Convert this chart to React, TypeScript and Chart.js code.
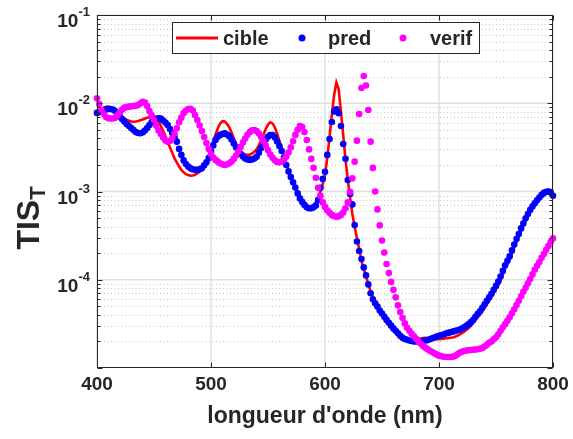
import React, { useEffect, useRef } from 'react';
import { Chart, registerables } from 'chart.js';

Chart.register(...registerables);

// ---------- data ----------
const WL_START = 400;
const WL_STEP = 2;
const WL_COUNT = 201;
const WAVELENGTHS: number[] = Array.from({ length: WL_COUNT }, (_, i) => WL_START + WL_STEP * i);

// cible (red line), 400..800 nm step 2
const CIBLE: number[] = [
  7.37e-3, 7.97e-3, 8.51e-3, 8.89e-3, 9.10e-3, 9.15e-3, 8.96e-3, 8.51e-3, 7.97e-3, 7.52e-3,
  7.18e-3, 6.94e-3, 6.71e-3, 6.50e-3, 6.33e-3, 6.20e-3, 6.17e-3, 6.22e-3, 6.30e-3, 6.42e-3,
  6.55e-3, 6.71e-3, 6.84e-3, 6.94e-3, 6.92e-3, 6.78e-3, 6.47e-3, 6.14e-3, 5.53e-3, 4.85e-3,
  4.26e-3, 3.67e-3, 3.16e-3, 2.74e-3, 2.37e-3, 2.14e-3, 1.92e-3, 1.76e-3, 1.65e-3, 1.57e-3,
  1.54e-3, 1.51e-3, 1.52e-3, 1.55e-3, 1.60e-3, 1.67e-3, 1.76e-3, 1.87e-3, 2.11e-3, 2.50e-3,
  2.96e-3, 3.64e-3, 4.43e-3, 5.21e-3, 5.90e-3, 6.27e-3, 6.22e-3, 5.83e-3, 5.35e-3, 4.67e-3,
  3.99e-3, 3.46e-3, 3.09e-3, 2.86e-3, 2.71e-3, 2.63e-3, 2.60e-3, 2.61e-3, 2.70e-3, 2.82e-3,
  3.00e-3, 3.33e-3, 3.84e-3, 4.41e-3, 5.11e-3, 5.75e-3, 6.09e-3, 5.90e-3, 5.32e-3, 4.55e-3,
  3.74e-3, 3.09e-3, 2.56e-3, 2.08e-3, 1.73e-3, 1.46e-3, 1.25e-3, 1.07e-3, 9.15e-4, 8.03e-4,
  7.33e-4, 6.81e-4, 6.47e-4, 6.47e-4, 6.59e-4, 6.90e-4, 7.52e-4, 8.57e-4, 1.00e-3, 1.22e-3,
  1.54e-3, 2.43e-3, 4.15e-3, 7.37e-3, 1.24e-2, 1.72e-2, 1.45e-2, 7.97e-3, 4.32e-3, 2.31e-3,
  1.35e-3, 8.57e-4, 5.57e-4, 4.00e-4, 2.98e-4, 2.23e-4, 1.64e-4, 1.31e-4, 1.09e-4, 8.86e-5,
  7.38e-5, 6.41e-5, 5.62e-5, 5.07e-5, 4.58e-5, 4.19e-5, 3.84e-5, 3.56e-5, 3.29e-5, 3.04e-5,
  2.84e-5, 2.67e-5, 2.51e-5, 2.37e-5, 2.26e-5, 2.17e-5, 2.11e-5, 2.07e-5, 2.05e-5, 2.05e-5,
  2.08e-5, 2.12e-5, 2.16e-5, 2.19e-5, 2.20e-5, 2.19e-5, 2.17e-5, 2.14e-5, 2.13e-5, 2.12e-5,
  2.12e-5, 2.13e-5, 2.15e-5, 2.17e-5, 2.18e-5, 2.20e-5, 2.22e-5, 2.26e-5, 2.32e-5, 2.39e-5,
  2.48e-5, 2.58e-5, 2.70e-5, 2.84e-5, 3.00e-5, 3.25e-5, 3.49e-5, 3.78e-5, 4.05e-5, 4.40e-5,
  4.81e-5, 5.27e-5, 5.77e-5, 6.36e-5, 7.05e-5, 7.84e-5, 8.75e-5, 9.97e-5, 1.15e-4, 1.33e-4,
  1.50e-4, 1.70e-4, 1.98e-4, 2.32e-4, 2.69e-4, 3.09e-4, 3.57e-4, 4.07e-4, 4.65e-4, 5.25e-4,
  5.87e-4, 6.49e-4, 7.11e-4, 7.76e-4, 8.42e-4, 9.08e-4, 9.84e-4, 1.01e-3, 1.04e-3, 1.04e-3,
  9.94e-4,
];

// pred (blue dots)
const PRED: number[] = [
  7.77e-3, 7.97e-3, 8.18e-3, 8.40e-3, 8.51e-3, 8.62e-3, 8.62e-3, 8.51e-3, 8.18e-3, 7.67e-3,
  7.08e-3, 6.64e-3, 6.22e-3, 5.83e-3, 5.53e-3, 5.25e-3, 4.98e-3, 4.73e-3, 4.61e-3, 4.57e-3,
  4.67e-3, 4.92e-3, 5.25e-3, 5.68e-3, 6.14e-3, 6.47e-3, 6.67e-3, 6.76e-3, 6.71e-3, 6.38e-3,
  6.06e-3, 5.68e-3, 5.11e-3, 4.61e-3, 4.15e-3, 3.67e-3, 3.04e-3, 2.60e-3, 2.25e-3, 2.05e-3,
  1.92e-3, 1.83e-3, 1.79e-3, 1.76e-3, 1.76e-3, 1.79e-3, 1.83e-3, 1.98e-3, 2.14e-3, 2.40e-3,
  2.84e-3, 3.33e-3, 3.84e-3, 4.17e-3, 4.38e-3, 4.49e-3, 4.57e-3, 4.43e-3, 4.24e-3, 3.89e-3,
  3.50e-3, 3.16e-3, 2.88e-3, 2.66e-3, 2.50e-3, 2.37e-3, 2.31e-3, 2.28e-3, 2.31e-3, 2.37e-3,
  2.48e-3, 2.74e-3, 3.12e-3, 3.52e-3, 3.89e-3, 4.17e-3, 4.36e-3, 4.36e-3, 4.10e-3, 3.69e-3,
  3.28e-3, 2.88e-3, 2.43e-3, 2.00e-3, 1.69e-3, 1.46e-3, 1.27e-3, 1.11e-3, 9.52e-4, 8.35e-4,
  7.62e-4, 7.05e-4, 6.61e-4, 6.47e-4, 6.48e-4, 6.61e-4, 6.96e-4, 8.03e-4, 1.10e-3, 1.39e-3,
  1.67e-3, 2.60e-3, 3.94e-3, 6.14e-3, 8.07e-3, 8.55e-3, 7.70e-3, 5.53e-3, 3.45e-3, 2.35e-3,
  1.35e-3, 9.39e-4, 7.14e-4, 4.18e-4, 2.71e-4, 2.12e-4, 1.72e-4, 1.38e-4, 1.12e-4, 8.86e-5,
  7.02e-5, 6.00e-5, 5.41e-5, 4.96e-5, 4.48e-5, 4.14e-5, 3.80e-5, 3.51e-5, 3.26e-5, 3.02e-5,
  2.81e-5, 2.64e-5, 2.48e-5, 2.32e-5, 2.20e-5, 2.13e-5, 2.09e-5, 2.05e-5, 2.02e-5, 2.00e-5,
  2.00e-5, 2.00e-5, 2.00e-5, 2.03e-5, 2.05e-5, 2.07e-5, 2.12e-5, 2.17e-5, 2.22e-5, 2.27e-5,
  2.32e-5, 2.35e-5, 2.40e-5, 2.46e-5, 2.50e-5, 2.54e-5, 2.58e-5, 2.63e-5, 2.67e-5, 2.71e-5,
  2.80e-5, 2.89e-5, 3.00e-5, 3.14e-5, 3.31e-5, 3.51e-5, 3.80e-5, 4.11e-5, 4.39e-5, 4.81e-5,
  5.27e-5, 5.77e-5, 6.32e-5, 6.93e-5, 7.68e-5, 8.52e-5, 9.53e-5, 1.09e-4, 1.26e-4, 1.46e-4,
  1.64e-4, 1.84e-4, 2.15e-4, 2.51e-4, 2.90e-4, 3.30e-4, 3.82e-4, 4.35e-4, 4.96e-4, 5.57e-4,
  6.19e-4, 6.78e-4, 7.36e-4, 7.97e-4, 8.55e-4, 9.15e-4, 9.64e-4, 9.94e-4, 1.00e-3, 9.76e-4,
  8.96e-4,
];

// verif (magenta dots)
const VERIF: number[] = [
  1.14e-2, 9.81e-3, 8.40e-3, 7.56e-3, 6.99e-3, 6.76e-3, 6.71e-3, 6.72e-3, 6.84e-3, 7.28e-3,
  7.87e-3, 8.44e-3, 8.92e-3, 9.03e-3, 9.15e-3, 9.22e-3, 9.29e-3, 9.37e-3, 9.57e-3, 9.95e-3,
  1.04e-2, 1.02e-2, 9.32e-3, 8.18e-3, 7.28e-3, 6.47e-3, 5.56e-3, 4.92e-3, 4.47e-3, 4.10e-3,
  3.79e-3, 3.66e-3, 3.74e-3, 3.99e-3, 4.55e-3, 5.21e-3, 6.09e-3, 6.87e-3, 7.72e-3, 8.29e-3,
  8.62e-3, 8.67e-3, 8.29e-3, 7.37e-3, 6.47e-3, 5.60e-3, 4.85e-3, 4.15e-3, 3.55e-3, 3.04e-3,
  2.66e-3, 2.43e-3, 2.28e-3, 2.18e-3, 2.09e-3, 2.03e-3, 2.00e-3, 2.02e-3, 2.09e-3, 2.19e-3,
  2.34e-3, 2.56e-3, 2.84e-3, 3.20e-3, 3.60e-3, 3.99e-3, 4.39e-3, 4.73e-3, 4.95e-3, 4.98e-3,
  4.85e-3, 4.55e-3, 4.15e-3, 3.72e-3, 3.31e-3, 2.94e-3, 2.63e-3, 2.41e-3, 2.26e-3, 2.16e-3,
  2.14e-3, 2.18e-3, 2.29e-3, 2.48e-3, 2.77e-3, 3.17e-3, 3.71e-3, 4.38e-3, 5.01e-3, 5.53e-3,
  5.39e-3, 4.73e-3, 3.84e-3, 3.00e-3, 2.34e-3, 1.85e-3, 1.43e-3, 1.10e-3, 8.91e-4, 7.52e-4,
  6.69e-4, 6.14e-4, 5.73e-4, 5.43e-4, 5.25e-4, 5.18e-4, 5.23e-4, 5.43e-4, 5.80e-4, 6.44e-4,
  7.52e-4, 9.89e-4, 1.41e-3, 2.18e-3, 3.77e-3, 7.56e-3, 1.49e-2, 2.04e-2, 1.59e-2, 8.40e-3,
  3.67e-3, 1.85e-3, 1.00e-3, 6.27e-4, 4.13e-4, 2.79e-4, 2.03e-4, 1.51e-4, 1.19e-4, 9.46e-5,
  7.68e-5, 6.32e-5, 5.13e-5, 4.30e-5, 3.68e-5, 3.20e-5, 2.86e-5, 2.64e-5, 2.44e-5, 2.29e-5,
  2.14e-5, 2.01e-5, 1.88e-5, 1.78e-5, 1.70e-5, 1.63e-5, 1.57e-5, 1.52e-5, 1.47e-5, 1.42e-5,
  1.38e-5, 1.36e-5, 1.34e-5, 1.33e-5, 1.33e-5, 1.33e-5, 1.34e-5, 1.37e-5, 1.42e-5, 1.49e-5,
  1.53e-5, 1.56e-5, 1.58e-5, 1.59e-5, 1.60e-5, 1.61e-5, 1.62e-5, 1.63e-5, 1.65e-5, 1.69e-5,
  1.75e-5, 1.83e-5, 1.93e-5, 2.00e-5, 2.12e-5, 2.23e-5, 2.41e-5, 2.64e-5, 2.89e-5, 3.14e-5,
  3.42e-5, 3.75e-5, 4.16e-5, 4.62e-5, 5.16e-5, 5.77e-5, 6.49e-5, 7.29e-5, 8.10e-5, 9.10e-5,
  1.02e-4, 1.15e-4, 1.30e-4, 1.44e-4, 1.59e-4, 1.77e-4, 1.96e-4, 2.18e-4, 2.42e-4, 2.69e-4,
  2.94e-4,
];

const SERIES_LABELS = ['cible', 'pred', 'verif'];
const SERIES_COLORS = ['#ff0000', '#0000ff', '#ff00ff'];
const X_MIN = 400;
const X_MAX = 800;
const Y_MIN = 1e-5;
const Y_MAX = 1e-1;
const X_TICKS = [400, 500, 600, 700, 800];
const Y_TICKS = [1e-1, 1e-2, 1e-3, 1e-4];
const Y_TICK_EXPONENTS = ['-1', '-2', '-3', '-4'];
const X_TITLE = "longueur d'onde (nm)";
const Y_TITLE_MAIN = 'TIS';
const Y_TITLE_SUB = 'T';

// ---------- style ----------
const FONT = '"Liberation Sans", Arial, Helvetica, sans-serif';
const INK = '#262626';

const crisp = (v: number) => Math.round(v) + 0.5;

const framePlugin = {
  id: 'matlabFrame',
  beforeDatasetsDraw(chart: any) {
    const { ctx, chartArea: a, scales } = chart;
    const xs = scales.x;
    const ys = scales.y;
    ctx.save();
    // minor dotted grid (log)
    ctx.strokeStyle = '#c9c9c9';
    ctx.lineWidth = 1;
    ctx.setLineDash([1, 2.5]);
    for (let e = -5; e <= -2; e++) {
      for (let m = 2; m <= 9; m++) {
        const py = crisp(ys.getPixelForValue(m * Math.pow(10, e)));
        ctx.beginPath();
        ctx.moveTo(a.left, py);
        ctx.lineTo(a.right, py);
        ctx.stroke();
      }
    }
    ctx.setLineDash([]);
    // major grid
    ctx.strokeStyle = '#e0e0e0';
    ctx.lineWidth = 1.5;
    Y_TICKS.forEach((v) => {
      const py = ys.getPixelForValue(v);
      ctx.beginPath();
      ctx.moveTo(a.left, py);
      ctx.lineTo(a.right, py);
      ctx.stroke();
    });
    X_TICKS.forEach((v) => {
      const px = xs.getPixelForValue(v);
      ctx.beginPath();
      ctx.moveTo(px, a.top);
      ctx.lineTo(px, a.bottom);
      ctx.stroke();
    });
    ctx.restore();
  },
  afterDraw(chart: any) {
    const { ctx, chartArea: a, scales } = chart;
    const xs = scales.x;
    const ys = scales.y;
    ctx.save();
    const L = crisp(a.left);
    const R = crisp(a.right) - 1;
    const T = crisp(a.top);
    const B = crisp(a.bottom) - 1;
    ctx.strokeStyle = INK;
    ctx.lineWidth = 1;
    ctx.strokeRect(L, T, R - L, B - T);
    // ticks
    ctx.beginPath();
    X_TICKS.forEach((v) => {
      const px = crisp(xs.getPixelForValue(v));
      ctx.moveTo(px, B); ctx.lineTo(px, B - 5);
      ctx.moveTo(px, T); ctx.lineTo(px, T + 5);
    });
    for (let e = -5; e <= -1; e++) {
      for (let m = 1; m <= 9; m++) {
        const v = m * Math.pow(10, e);
        if (v > Y_MAX * 1.0001) continue;
        const py = crisp(ys.getPixelForValue(v));
        const len = m === 1 ? 5 : 3;
        ctx.moveTo(L, py); ctx.lineTo(L + len, py);
        ctx.moveTo(R, py); ctx.lineTo(R - len, py);
      }
    }
    ctx.stroke();

    // y tick labels 10^n
    ctx.fillStyle = INK;
    ctx.textAlign = 'left';
    ctx.textBaseline = 'alphabetic';
    Y_TICKS.forEach((v, i) => {
      const py = ys.getPixelForValue(v);
      const exp = Y_TICK_EXPONENTS[i];
      ctx.font = `bold 13px ${FONT}`;
      const ew = ctx.measureText(exp).width;
      ctx.font = `bold 19px ${FONT}`;
      const bw = ctx.measureText('10').width;
      const right = a.left - 7;
      ctx.fillText('10', right - ew - bw, py + 12);
      ctx.font = `bold 13px ${FONT}`;
      ctx.fillText(exp, right - ew, py + 1);
    });

    // x tick labels
    ctx.font = `bold 19px ${FONT}`;
    ctx.textAlign = 'center';
    X_TICKS.forEach((v) => {
      ctx.fillText(String(v), xs.getPixelForValue(v), a.bottom + 22);
    });

    // x title
    ctx.font = `bold 23px ${FONT}`;
    ctx.fillText(X_TITLE, (a.left + a.right) / 2, a.bottom + 55);

    // y title with subscript
    ctx.save();
    ctx.font = `bold 32px ${FONT}`;
    const wMain = ctx.measureText(Y_TITLE_MAIN).width;
    ctx.font = `bold 22px ${FONT}`;
    const wSub = ctx.measureText(Y_TITLE_SUB).width;
    const total = wMain + wSub;
    ctx.translate(0, 218);
    ctx.rotate(-Math.PI / 2);
    ctx.textAlign = 'left';
    ctx.font = `bold 32px ${FONT}`;
    ctx.fillText(Y_TITLE_MAIN, -total / 2, 39);
    ctx.font = `bold 22px ${FONT}`;
    ctx.fillText(Y_TITLE_SUB, -total / 2 + wMain, 45);
    ctx.restore();

    // legend
    const lx = 172.5, ly = 22.5, lw = 307, lh = 31;
    ctx.fillStyle = '#ffffff';
    ctx.fillRect(lx, ly, lw, lh);
    ctx.strokeStyle = INK;
    ctx.lineWidth = 1;
    ctx.strokeRect(lx, ly, lw, lh);
    const cy = ly + lh / 2;
    ctx.font = `bold 20px ${FONT}`;
    ctx.textAlign = 'left';
    ctx.textBaseline = 'middle';
    // cible: line sample
    ctx.strokeStyle = SERIES_COLORS[0];
    ctx.lineWidth = 3;
    ctx.beginPath();
    ctx.moveTo(176, cy);
    ctx.lineTo(218, cy);
    ctx.stroke();
    ctx.fillStyle = INK;
    ctx.fillText(SERIES_LABELS[0], 223, cy + 1);
    // pred
    ctx.fillStyle = SERIES_COLORS[1];
    ctx.beginPath(); ctx.arc(302, cy, 3.5, 0, Math.PI * 2); ctx.fill();
    ctx.fillStyle = INK;
    ctx.fillText(SERIES_LABELS[1], 328, cy + 1);
    // verif
    ctx.fillStyle = SERIES_COLORS[2];
    ctx.beginPath(); ctx.arc(403, cy, 3.5, 0, Math.PI * 2); ctx.fill();
    ctx.fillStyle = INK;
    ctx.fillText(SERIES_LABELS[2], 430, cy + 1);
    ctx.restore();
  },
};

export default function App() {
  const ref = useRef<HTMLCanvasElement | null>(null);

  useEffect(() => {
    if (!ref.current) return;
    const toXY = (arr: number[]) => WAVELENGTHS.map((x, i) => ({ x, y: arr[i] }));
    const chart = new Chart(ref.current, {
      type: 'line',
      data: {
        datasets: [
          {
            label: SERIES_LABELS[0],
            data: toXY(CIBLE),
            borderColor: SERIES_COLORS[0],
            backgroundColor: SERIES_COLORS[0],
            borderWidth: 2.6,
            pointRadius: 0,
            tension: 0,
            order: 3,
            clip: false as any,
          },
          {
            label: SERIES_LABELS[1],
            data: toXY(PRED),
            showLine: false,
            borderColor: SERIES_COLORS[1],
            backgroundColor: SERIES_COLORS[1],
            pointRadius: 3.3,
            pointBorderWidth: 0,
            order: 2,
            clip: false as any,
          },
          {
            label: SERIES_LABELS[2],
            data: toXY(VERIF),
            showLine: false,
            borderColor: SERIES_COLORS[2],
            backgroundColor: SERIES_COLORS[2],
            pointRadius: 3.3,
            pointBorderWidth: 0,
            order: 1,
            clip: false as any,
          },
        ],
      },
      options: {
        responsive: false,
        animation: false,
        events: [],
        layout: { padding: { top: 15, right: 20, left: 0, bottom: 0 } },
        plugins: { legend: { display: false }, tooltip: { enabled: false } },
        scales: {
          x: {
            type: 'linear',
            min: X_MIN,
            max: X_MAX,
            ticks: { display: false },
            grid: { display: false },
            border: { display: false },
            afterFit: (s: any) => { s.height = 71; },
          },
          y: {
            type: 'logarithmic',
            min: Y_MIN,
            max: Y_MAX,
            ticks: { display: false },
            grid: { display: false },
            border: { display: false },
            afterFit: (s: any) => { s.width = 97; },
          },
        },
      },
      plugins: [framePlugin],
    });
    return () => chart.destroy();
  }, []);

  return (
    <div style={{ position: 'absolute', left: 0, top: 0, width: 573, height: 439, background: '#fff' }}>
      <canvas ref={ref} width={573} height={439} style={{ display: 'block' }} />
    </div>
  );
}
